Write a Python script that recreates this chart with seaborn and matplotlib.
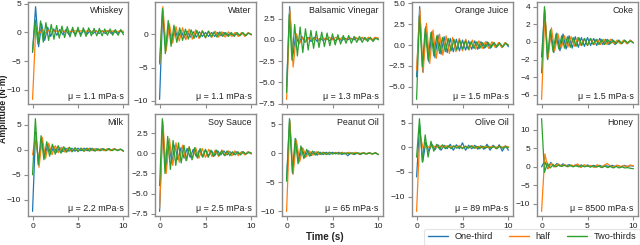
import numpy as np
import pandas as pd
import matplotlib
matplotlib.use("Agg")
import matplotlib.pyplot as plt
from matplotlib.ticker import MultipleLocator
import seaborn as sns

sns.set_style("white")
plt.rcParams["font.family"] = ["Liberation Sans", "DejaVu Sans"]

LIQUIDS = ["Whiskey", "Water", "Balsamic Vinegar", "Orange Juice", "Coke",
           "Milk", "Soy Sauce", "Peanut Oil", "Olive Oil", "Honey"]
VISCOSITY = ["1.1", "1.1", "1.3", "1.5", "1.5", "2.2", "2.5", "65", "89", "8500"]
Y_STEP = [5, 5, 2.5, 2.5, 2, 5, 2.5, 5, 5, 5]
SERIES = ["One-third", "half", "Two-thirds"]
COLORS = ["#1f77b4", "#ff7f0e", "#2ca02c"]
X_TICKS = [0, 5, 10]
T_END = 10.0

# Extremum values (peaks/troughs), evenly spaced in time over 0..10 s
WHISKEY_ONE = [-3.5, 4.5, -2.5, 1.5, -1.4, 0.9, -0.7, 0.6, -0.5, 0.5, -0.4, 0.5, -0.4, 0.4, -0.3, 0.4,
               -0.3, 0.4, -0.3, 0.3, -0.2, 0.3, -0.2, 0.3, -0.2, 0.3, -0.2, 0.2, -0.2, 0.2, 0.0]
WHISKEY_HALF = [-11.7, 0.8, -0.3, 0.5, -0.1, 0.4, 0.0, 0.3, 0.1, 0.3, 0.1, 0.3, 0.1, 0.3, 0.1, 0.3,
                0.1, 0.3, 0.1, 0.3, 0.1, 0.3, 0.1, 0.3, 0.1, 0.3, 0.1, 0.3, 0.2]
WHISKEY_TWO = [-3.3, 2.2, -2.0, 2.0, -1.7, 1.7, -1.4, 1.4, -1.2, 1.2, -1.0, 1.1, -0.9, 1.0, -0.8, 0.9,
               -0.7, 0.9, -0.7, 0.8, -0.7, 0.8, -0.6, 0.7, -0.6, 0.7, -0.6, 0.6, -0.5, 0.6, -0.5, 0.5,
               -0.5, 0.5, -0.4]

WATER_ONE = [-9.8, 3.5, -2.0, 1.2, -1.0, 0.8, -0.6, 0.6, -0.5, 0.5, -0.4, 0.4, -0.4, 0.4, -0.3, 0.3,
             -0.3, 0.3, -0.3, 0.3, -0.2, 0.3, -0.2, 0.2, -0.2, 0.2, -0.2, 0.2, -0.1, 0.2, 0.0]
WATER_HALF = [-4.5, 4.2, -2.5, 1.6, -1.3, 1.2, -1.0, 1.0, -0.8, 0.8, -0.7, 0.7, -0.6, 0.6, -0.5, 0.5,
              -0.4, 0.5, -0.4, 0.4, -0.4, 0.4, -0.3, 0.3, -0.3, 0.3, -0.3, 0.3, -0.1]
WATER_TWO = [-4.3, 3.9, -2.9, 2.1, -1.8, 1.4, -1.2, 1.0, -0.9, 0.8, -0.7, 0.7, -0.6, 0.6, -0.5, 0.5,
             -0.5, 0.5, -0.4, 0.4, -0.4, 0.4, -0.3, 0.3, -0.3, 0.3, -0.3, 0.3, -0.2, 0.3, -0.2, 0.2, 0.0]

BALSAMIC_ONE = [-5.5, 3.9, -2.0, 0.6, -0.5, 0.4, -0.3, 0.3, -0.2, 0.3, -0.2, 0.2, -0.1, 0.2, -0.1, 0.2,
                -0.1, 0.2, -0.1, 0.2, 0.0, 0.2, 0.0, 0.2, 0.0, 0.2, 0.0, 0.2, 0.0, 0.2, 0.1]
BALSAMIC_HALF = [-7.0, 3.5, -3.2, 0.7, -0.4, 0.3, -0.2, 0.3, -0.1, 0.3, -0.1, 0.3, 0.0, 0.3, 0.0, 0.3,
                 0.0, 0.3, 0.0, 0.3, 0.0, 0.3, 0.0, 0.3, 0.0, 0.3, 0.0, 0.3, 0.2]
BALSAMIC_TWO = [-6.2, 3.0, -2.4, 1.8, -1.9, 1.5, -1.5, 1.3, -1.2, 1.1, -1.0, 1.0, -0.9, 0.9, -0.8, 0.8,
                -0.7, 0.7, -0.6, 0.6, -0.5, 0.5, -0.4, 0.5, -0.4, 0.4, -0.3, 0.4, -0.3, 0.3, -0.2, 0.3,
                -0.2, 0.2, 0.0]

ORANGE_ONE = [-3.8, 4.6, -3.2, 2.2, -2.0, 1.6, -1.5, 1.2, -1.1, 1.0, -0.9, 0.8, -0.8, 0.7, -0.7, 0.6,
              -0.6, 0.5, -0.5, 0.5, -0.5, 0.4, -0.4, 0.4, -0.4, 0.3, -0.3, 0.3, -0.3, 0.3, -0.2]
ORANGE_HALF = [-3.0, 4.3, -3.3, 2.6, -2.2, 1.8, -1.6, 1.3, -1.2, 1.1, -1.0, 0.9, -0.8, 0.8, -0.7, 0.7,
               -0.6, 0.6, -0.5, 0.5, -0.4, 0.4, -0.4, 0.4, -0.3, 0.3, -0.3, 0.3, 0.0]
ORANGE_TWO = [-6.5, 3.5, -2.6, 2.0, -1.8, 1.5, -1.3, 1.1, -1.0, 0.9, -0.8, 0.8, -0.7, 0.7, -0.6, 0.6,
              -0.5, 0.5, -0.5, 0.4, -0.4, 0.4, -0.4, 0.3, -0.3, 0.3, -0.3, 0.3, -0.2, 0.2, -0.2, 0.2, 0.0]

COKE_ONE = [-1.7, 3.7, -2.0, 1.4, -1.2, 1.0, -1.0, 0.9, -0.8, 0.7, -0.7, 0.6, -0.6, 0.5, -0.5, 0.5,
            -0.4, 0.4, -0.4, 0.4, -0.3, 0.3, -0.3, 0.3, -0.3, 0.2, -0.2, 0.2, -0.2, 0.2, -0.1]
COKE_HALF = [-6.5, 3.3, -1.8, 1.6, -1.0, 0.9, -0.7, 0.7, -0.6, 0.6, -0.5, 0.5, -0.4, 0.4, -0.4, 0.4,
             -0.3, 0.3, -0.3, 0.3, -0.3, 0.3, -0.2, 0.2, -0.2, 0.2, -0.2, 0.2, -0.1]
COKE_TWO = [-3.5, 4.0, -1.9, 1.3, -1.1, 0.9, -0.8, 0.7, -0.7, 0.6, -0.6, 0.5, -0.5, 0.5, -0.4, 0.4,
            -0.4, 0.4, -0.3, 0.3, -0.3, 0.3, -0.3, 0.3, -0.2, 0.2, -0.2, 0.2, -0.2, 0.2, -0.1, 0.1, -0.1]

MILK_ONE = [-12.3, 3.5, -3.0, 2.0, -1.5, 1.0, -0.8, 0.6, -0.5, 0.4, -0.4, 0.3, -0.3, 0.3, -0.3, 0.3,
            -0.2, 0.3, -0.2, 0.3, -0.2, 0.2, -0.2, 0.2, -0.2, 0.2, -0.1, 0.2, -0.1, 0.1, -0.2]
MILK_HALF = [-1.0, 3.0, -3.5, 2.5, -1.8, 1.3, -1.0, 0.8, -0.6, 0.5, -0.5, 0.4, -0.4, 0.3, -0.3, 0.3,
             -0.3, 0.3, -0.2, 0.2, -0.2, 0.2, -0.2, 0.2, -0.2, 0.2, -0.1, 0.1, -0.3]
MILK_TWO = [-5.0, 6.2, -3.0, 2.8, -2.0, 1.6, -1.3, 1.1, -0.9, 0.8, -0.7, 0.6, -0.5, 0.5, -0.4, 0.4,
            -0.4, 0.3, -0.3, 0.3, -0.3, 0.3, -0.3, 0.2, -0.2, 0.2, -0.2, 0.2, -0.2, 0.1, -0.2, 0.1, -0.3]

SOY_ONE = [-7.2, 3.5, -2.2, 1.5, -1.2, 1.0, -0.8, 0.7, -0.6, 0.6, -0.5, 0.5, -0.4, 0.4, -0.4, 0.4,
           -0.3, 0.3, -0.3, 0.3, -0.2, 0.3, -0.2, 0.2, -0.2, 0.2, -0.1, 0.2, -0.1, 0.2, 0.0]
SOY_HALF = [-6.8, 4.0, -2.5, 1.8, -1.5, 1.3, -1.1, 1.0, -0.9, 0.8, -0.7, 0.7, -0.6, 0.6, -0.5, 0.5,
            -0.4, 0.4, -0.4, 0.4, -0.3, 0.3, -0.3, 0.3, -0.3, 0.2, -0.2, 0.2, -0.1]
SOY_TWO = [-4.0, 4.3, -2.5, 2.1, -2.0, 1.6, -1.5, 1.3, -1.2, 1.0, -0.9, 0.8, -0.8, 0.7, -0.6, 0.6,
           -0.5, 0.5, -0.5, 0.4, -0.4, 0.4, -0.3, 0.3, -0.3, 0.3, -0.3, 0.2, -0.2, 0.2, -0.2, 0.2,
           -0.1, 0.1, 0.0]

PEANUT_ONE = [-4.5, 5.8, -3.5, 2.5, -1.5, 1.0, -0.7, 0.5, -0.4, 0.3, -0.3, 0.2, -0.2, 0.2, -0.2, 0.2,
              -0.1, 0.2, -0.2, 0.1, -0.4, 0.1, -0.2, 0.1, -0.2, 0.1, -0.1, 0.1, -0.1, 0.1, -0.2]
PEANUT_HALF = [-10.0, 5.5, -3.6, 2.2, -1.4, 0.9, -0.6, 0.4, -0.3, 0.3, -0.2, 0.2, -0.2, 0.2, -0.1, 0.2,
               -0.1, 0.2, -0.1, 0.2, -0.1, 0.2, -0.1, 0.1, -0.1, 0.1, -0.1, 0.1, -0.2]
PEANUT_TWO = [-4.8, 6.0, -3.3, 2.6, -1.8, 1.3, -0.9, 0.7, -0.5, 0.4, -0.3, 0.3, -0.2, 0.2, -0.2, 0.2,
              -0.1, 0.1, -0.1, 0.1, -0.1, 0.1, -0.1, 0.1, -0.1, 0.1, -0.1, 0.1, -0.1, 0.1, -0.1, 0.1, -0.2]

OLIVE_ONE = [-6.0, 4.5, -3.0, 1.0, -0.8, 0.6, -0.5, 0.5, -0.6, 0.4, -0.3, 0.6, -0.6, 0.5, -0.3, 0.9,
             -0.6, 0.4, -0.3, 0.4, -0.4, 0.3, -0.4, 0.6, -0.6, 0.4, -0.3, 0.5, -0.8, 0.3, -0.6]
OLIVE_HALF = [-13.0, 2.7, -0.3, 0.4, -0.1, 0.3, 0.0, 0.3, 0.0, 0.3, 0.0, 0.2, 0.0, 0.3, -0.1, 0.2,
              -0.1, 0.3, -0.2, 0.2, -0.1, 0.2, -0.1, 0.2, -0.1, 0.2, 0.0, 0.2, 0.1]
OLIVE_TWO = [-2.0, 5.8, -3.0, 2.5, -2.0, 1.2, -0.8, 0.6, -0.4, 0.5, -0.3, 0.3, -0.3, 0.3, -0.2, 0.2,
             -0.3, 0.2, -0.2, 0.3, -0.2, 0.2, -0.3, 0.2, -0.2, 0.2, -0.2, 0.2, -0.3, 0.2, -0.2, 0.1, -0.1]

HONEY_ONE = [0.0, 1.5, -0.5, 1.2, 0.0, 0.9, 0.2, 0.8, 0.3, 0.6, 0.1, 0.5, 0.2, 0.5, 0.1, 0.5,
             0.2, 0.4, 0.1, 0.4, 0.0, 0.3, 0.1, 0.4, 0.1, 0.3, 0.0, 0.4, 0.1, 0.3, 0.2]
HONEY_HALF = [-12.0, 3.5, -0.5, 1.0, 0.0, 0.8, 0.2, 0.6, 0.0, 0.5, 0.3, 0.8, -0.2, 0.6, 0.1, 0.4,
              -0.2, 0.6, -0.1, 0.4, 0.9, 0.2, -0.1, 0.5, 0.1, 0.3, 0.0, 0.5, 0.3]
HONEY_TWO = [13.0, -1.5, 1.0, -0.3, 0.6, 0.0, 0.5, 0.1, 0.4, 0.1, 0.4, 0.0, 0.3, 0.0, 0.3, 0.0,
             0.3, -0.1, 0.3, -0.1, 0.2, -0.2, 0.2, -0.2, 0.1, -0.3, 0.1, -0.3, 0.0, -0.3, -0.2, -0.4, -0.5]

TRACES = [
    (WHISKEY_ONE, WHISKEY_HALF, WHISKEY_TWO),
    (WATER_ONE, WATER_HALF, WATER_TWO),
    (BALSAMIC_ONE, BALSAMIC_HALF, BALSAMIC_TWO),
    (ORANGE_ONE, ORANGE_HALF, ORANGE_TWO),
    (COKE_ONE, COKE_HALF, COKE_TWO),
    (MILK_ONE, MILK_HALF, MILK_TWO),
    (SOY_ONE, SOY_HALF, SOY_TWO),
    (PEANUT_ONE, PEANUT_HALF, PEANUT_TWO),
    (OLIVE_ONE, OLIVE_HALF, OLIVE_TWO),
    (HONEY_ONE, HONEY_HALF, HONEY_TWO),
]

W, H = 640, 245
fig = plt.figure(figsize=(W / 100, H / 100), dpi=100)
col_left = [28, 155, 282, 412, 537]
col_w = [100, 101, 101, 101, 101]
row_top = [2, 114]
ax_h = 102
frame_col = "#8c8c8c"
TXT = 6.4
TICK_TXT = 6.0

for i, liquid in enumerate(LIQUIDS):
    r, c = divmod(i, 5)
    left = col_left[c] / W
    bottom = 1 - (row_top[r] + ax_h) / H
    ax = fig.add_axes([left, bottom, col_w[c] / W, ax_h / H])
    frames = []
    for name, vals in zip(SERIES, TRACES[i]):
        n = len(vals)
        frames.append(pd.DataFrame({"t": np.linspace(0, T_END, n), "amp": vals, "series": name}))
    df = pd.concat(frames, ignore_index=True)
    sns.lineplot(data=df, x="t", y="amp", hue="series", hue_order=SERIES,
                 palette=COLORS, ax=ax, legend=False, linewidth=0.9, estimator=None,
                 sort=False)
    ax.set_xlim(-0.5, 10.5)
    ax.set_xticks(X_TICKS)
    ax.yaxis.set_major_locator(MultipleLocator(Y_STEP[i]))
    ax.set_xlabel("")
    ax.set_ylabel("")
    if r == 0:
        ax.set_xticklabels([])
    for s in ax.spines.values():
        s.set_color(frame_col)
        s.set_linewidth(1.0)
    ax.tick_params(axis="both", which="both", direction="out", length=3, width=0.8,
                   color=frame_col, labelsize=TICK_TXT, pad=1.8, bottom=True, left=True,
                   labelcolor="#222222")
    ax.text(0.955, 0.915, liquid, transform=ax.transAxes, ha="right", va="center",
            fontsize=TXT, color="#222222")
    ax.text(0.955, 0.075, "μ = " + VISCOSITY[i] + " mPa·s", transform=ax.transAxes,
            ha="right", va="center", fontsize=TXT, color="#222222")

fig.text(4 / W, 1 - 109 / H, "Amplitude (N·m)", rotation=90, ha="center", va="center",
         fontsize=6.3, fontweight="bold", color="#222222")
fig.text(325 / W, 1 - 237 / H, "Time (s)", ha="center", va="center", fontsize=7,
         fontweight="bold", color="#222222")

handles = [plt.Line2D([], [], color=col, lw=1) for col in COLORS]
leg = fig.legend(handles, SERIES, loc="lower right", bbox_to_anchor=(1.0, 0.0), ncol=3,
                 fontsize=6.6, frameon=True, handlelength=2.2, columnspacing=1.8,
                 borderpad=0.35, handletextpad=0.7, borderaxespad=0.05, fancybox=True)
leg.get_frame().set_edgecolor("#dddddd")
leg.get_frame().set_linewidth(0.8)
for t in leg.get_texts():
    t.set_color("#222222")

fig.savefig("out.png", dpi=100)
